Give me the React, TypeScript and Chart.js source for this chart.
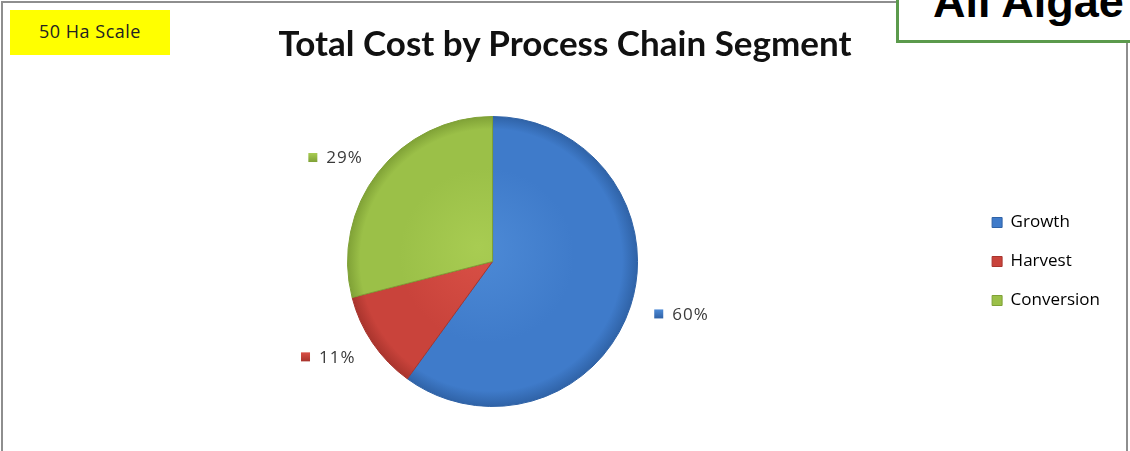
import React, { useEffect, useRef } from "react";
import { Chart, registerables } from "chart.js";

Chart.register(...registerables);

const categories = ["Growth", "Harvest", "Conversion"];
const shares = [60, 11, 29];
const labelTexts = ["60%", "11%", "29%"];
const baseColors = ["#3f7bca", "#c9433b", "#9bc048"];
const lightColors = ["#4d8ad6", "#d95046", "#a8cc52"];
const darkColors = ["#2f62a6", "#a8342d", "#7fa136"];
const chartTitle = "Total Cost by Process Chain Segment";
const scaleNote = "50 Ha Scale";
const cornerNote = "All Algae";

const labelPlugin = {
  id: "pctLabels",
  afterDatasetsDraw(chart: any) {
    const ctx = chart.ctx;
    const meta = chart.getDatasetMeta(0);
    ctx.save();
    ctx.font = "17px 'Open Sans'";
    (ctx as any).letterSpacing = "1px";
    ctx.textBaseline = "middle";
    ctx.textAlign = "left";
    meta.data.forEach((arc: any, i: number) => {
      const p = arc.getProps(["x", "y", "startAngle", "endAngle", "outerRadius"], true);
      const mid = (p.startAngle + p.endAngle) / 2;
      const cx = p.x + Math.cos(mid) * p.outerRadius * 1.37;
      const cy = p.y + Math.sin(mid) * p.outerRadius * 1.17;
      const text = labelTexts[i];
      const tw = ctx.measureText(text).width;
      const sq = 9;
      const gap = 9;
      const total = sq + gap + tw;
      const x0 = cx - total / 2;
      const g = ctx.createLinearGradient(x0, cy - sq / 2, x0, cy + sq / 2);
      g.addColorStop(0, lightColors[i]);
      g.addColorStop(1, darkColors[i]);
      ctx.fillStyle = g;
      ctx.fillRect(x0, cy - sq / 2, sq, sq);
      ctx.fillStyle = "#3a3a3a";
      ctx.fillText(text, x0 + sq + gap, cy + 1);
    });
    ctx.restore();
  },
};

function sliceFill(context: any) {
  const i = context.dataIndex ?? 0;
  const chart = context.chart;
  const area = chart.chartArea;
  if (!area) return baseColors[i];
  const cx = (area.left + area.right) / 2;
  const cy = (area.top + area.bottom) / 2;
  const r = Math.min(area.right - area.left, area.bottom - area.top) / 2;
  const g = chart.ctx.createRadialGradient(cx - r * 0.1, cy - r * 0.1, 0, cx, cy, r);
  g.addColorStop(0, lightColors[i]);
  g.addColorStop(0.6, baseColors[i]);
  g.addColorStop(0.9, baseColors[i]);
  g.addColorStop(1, darkColors[i]);
  return g;
}

export default function App() {
  const ref = useRef<HTMLCanvasElement | null>(null);
  useEffect(() => {
    if (!ref.current) return;
    const chart = new Chart(ref.current, {
      type: "pie",
      data: {
        labels: categories,
        datasets: [
          {
            data: shares,
            backgroundColor: sliceFill as any,
            borderColor: darkColors,
            borderWidth: 1,
          },
        ],
      },
      plugins: [labelPlugin],
      options: {
        animation: false,
        responsive: false,
        layout: { padding: { top: 116, bottom: 44, left: 15, right: 20 } },
        plugins: {
          title: { display: false },
          tooltip: { enabled: false },
          legend: {
            position: "right",
            labels: {
              boxWidth: 10,
              boxHeight: 10,
              padding: 22,
              color: "#3a3a3a",
              font: { family: "'Open Sans'", size: 17 },
              generateLabels: () =>
                categories.map((c, i) => ({
                  text: c,
                  fillStyle: baseColors[i],
                  strokeStyle: darkColors[i],
                  lineWidth: 1,
                  hidden: false,
                  index: i,
                  datasetIndex: 0,
                })),
            },
          },
        },
      },
    });
    return () => chart.destroy();
  }, []);

  return (
    <div
      style={{
        position: "absolute",
        left: 0,
        top: 0,
        width: 1130,
        height: 451,
        overflow: "hidden",
        background: "#ffffff",
      }}
    >
      <div
        style={{
          position: "absolute",
          left: 1,
          top: 1,
          width: 1127,
          height: 480,
          border: "2px solid #8e8e8e",
          boxSizing: "border-box",
        }}
      />
      <canvas ref={ref} width={1130} height={451} style={{ position: "absolute", left: 0, top: 0 }} />
      <div
        style={{
          position: "absolute",
          left: 10,
          top: 10,
          width: 160,
          height: 45,
          background: "#ffff00",
          fontFamily: "'Open Sans', sans-serif",
          fontSize: 18,
          letterSpacing: "0.5px",
          color: "#222",
          display: "flex",
          alignItems: "center",
          justifyContent: "center",
          paddingBottom: 4,
          boxSizing: "border-box",
        }}
      >
        {scaleNote}
      </div>
      <div
        style={{
          position: "absolute",
          left: 0,
          top: 22,
          width: 1130,
          textAlign: "center",
          fontFamily: "Lato, sans-serif",
          fontWeight: 700,
          fontSize: 35,
          color: "#111",
          lineHeight: "40px",
        }}
      >
        {chartTitle}
      </div>
      <div
        style={{
          position: "absolute",
          left: 896,
          top: -20,
          width: 280,
          height: 63,
          border: "3px solid #5b9a4c",
          background: "#ffffff",
          boxSizing: "border-box",
          overflow: "hidden",
        }}
      >
        <div
          style={{
            position: "absolute",
            left: 34,
            top: -7,
            fontFamily: "'Liberation Sans', Arial, sans-serif",
            fontWeight: 700,
            fontSize: 45,
            lineHeight: "52px",
            color: "#000",
            whiteSpace: "nowrap",
          }}
        >
          {cornerNote}
        </div>
      </div>
    </div>
  );
}
